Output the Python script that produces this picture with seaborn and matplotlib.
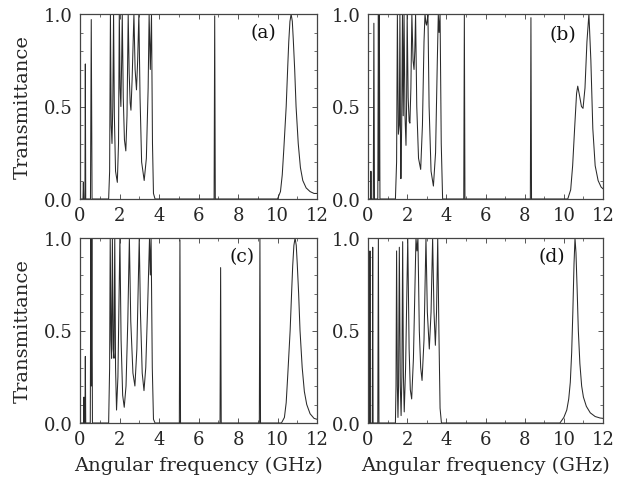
import numpy as np
import pandas as pd
import matplotlib
matplotlib.use("Agg")
import matplotlib.pyplot as plt
from matplotlib.ticker import MultipleLocator
import seaborn as sns

# ── Data (frequency in GHz, transmittance) ─────────────────────────────────
freq_a = [0, 0.15, 0.17, 0.19, 0.25, 0.27, 0.29, 0.53, 0.57, 0.61,
          1.45, 1.5, 1.54, 1.58, 1.62, 1.66, 1.7, 1.74, 1.8, 1.89, 1.95, 1.99,
          2.03, 2.07, 2.11, 2.14, 2.19, 2.25, 2.32, 2.38, 2.44, 2.49, 2.54, 2.58,
          2.64, 2.73, 2.79, 2.86, 2.92, 2.98, 3.04, 3.12, 3.25, 3.36, 3.45, 3.5,
          3.56, 3.62, 3.67, 3.72, 3.8, 6.79, 6.82, 6.85,
          10.0, 10.15, 10.24, 10.32, 10.44, 10.52, 10.57, 10.63, 10.69, 10.75,
          10.8, 10.87, 10.94, 11.05, 11.16, 11.28, 11.45, 11.65, 11.85, 12.0]
trans_a = [0, 0, 0.09, 0, 0, 0.73, 0, 0, 0.97, 0,
           0, 0.15, 1.0, 0.4, 0.3, 0.5, 1.0, 0.45, 0.15, 0.09, 0.3, 1.0,
           0.6, 0.5, 0.75, 1.0, 0.55, 0.32, 0.26, 0.45, 1.0, 0.68, 0.52, 0.48,
           0.65, 1.0, 0.7, 0.59, 0.75, 1.0, 0.55, 0.2, 0.1, 0.22, 0.6, 1.0,
           0.7, 1.0, 0.3, 0.03, 0, 0, 0.99, 0,
           0, 0.04, 0.13, 0.27, 0.5, 0.72, 0.85, 0.96, 1.0, 0.96,
           0.86, 0.7, 0.5, 0.3, 0.17, 0.1, 0.06, 0.04, 0.03, 0.03]

freq_b = [0, 0.13, 0.15, 0.17, 0.27, 0.3, 0.33, 0.5, 0.53, 0.555, 0.58, 0.61,
          1.4, 1.46, 1.5, 1.55, 1.6, 1.63, 1.66, 1.68, 1.72, 1.76, 1.8, 1.84,
          1.89, 1.94, 1.97, 2.0, 2.05, 2.1, 2.14, 2.19, 2.24, 2.3, 2.35, 2.39,
          2.43, 2.49, 2.58, 2.69, 2.78, 2.86, 2.91, 2.96, 2.99, 3.03, 3.06,
          3.12, 3.22, 3.34, 3.45, 3.54, 3.59, 3.63, 3.68, 3.74, 3.81,
          4.89, 4.92, 4.95, 8.29, 8.32, 8.35,
          10.2, 10.35, 10.45, 10.55, 10.65, 10.71, 10.8, 10.9, 10.98, 11.08,
          11.18, 11.28, 11.38, 11.48, 11.6, 11.75, 11.9, 12.0]
trans_b = [0, 0, 0.15, 0, 0, 0.95, 0, 0, 1.0, 0.1, 1.0, 0,
           0, 0.2, 1.0, 0.35, 0.4, 1.0, 0.3, 0.11, 0.4, 1.0, 0.45, 1.0,
           0.45, 0.29, 0.5, 1.0, 0.55, 0.42, 0.41, 0.6, 1.0, 0.75, 0.7, 0.8,
           1.0, 0.5, 0.22, 0.16, 0.4, 0.85, 1.0, 0.95, 0.94, 0.97, 1.0,
           0.5, 0.15, 0.07, 0.25, 0.75, 1.0, 0.9, 1.0, 0.3, 0,
           0, 1.0, 0, 0, 0.98, 0,
           0, 0.05, 0.18, 0.38, 0.57, 0.61, 0.56, 0.5, 0.49, 0.6,
           0.85, 1.0, 0.75, 0.38, 0.18, 0.1, 0.065, 0.055]

freq_c = [0, 0.18, 0.2, 0.22, 0.25, 0.27, 0.29, 0.52, 0.55, 0.575, 0.6, 0.63,
          1.45, 1.5, 1.53, 1.57, 1.6, 1.64, 1.68, 1.72, 1.76, 1.8, 1.85, 1.92,
          2.02, 2.08, 2.16, 2.24, 2.33, 2.42, 2.5, 2.57, 2.68, 2.78, 2.88, 2.95,
          3.0, 3.06, 3.15, 3.24, 3.33, 3.43, 3.52, 3.56, 3.6, 3.66, 3.72, 3.8,
          5.03, 5.06, 5.09, 7.09, 7.12, 7.15, 9.08, 9.11, 9.14,
          10.2, 10.35, 10.44, 10.52, 10.64, 10.72, 10.77, 10.83, 10.89, 10.95,
          11.0, 11.07, 11.14, 11.25, 11.36, 11.48, 11.65, 11.85, 12.0]
trans_c = [0, 0, 0.14, 0, 0, 0.36, 0, 0, 1.0, 0.2, 1.0, 0,
           0, 0.3, 1.0, 0.45, 0.35, 1.0, 0.4, 0.35, 1.0, 0.3, 0.07, 0.25,
           1.0, 0.45, 0.15, 0.085, 0.2, 0.55, 1.0, 0.55, 0.27, 0.2, 0.4, 0.75,
           1.0, 0.6, 0.27, 0.175, 0.3, 0.65, 1.0, 0.8, 1.0, 0.3, 0.02, 0,
           0, 0.99, 0, 0, 0.84, 0, 0, 1.0, 0,
           0, 0.03, 0.11, 0.26, 0.5, 0.72, 0.85, 0.96, 1.0, 0.96,
           0.86, 0.7, 0.5, 0.3, 0.17, 0.1, 0.05, 0.025, 0.02]

freq_d = [0, 0.08, 0.1, 0.12, 0.22, 0.24, 0.26, 0.5, 0.53, 0.56,
          1.4, 1.43, 1.46, 1.5, 1.53, 1.56, 1.6, 1.65, 1.69, 1.73, 1.77, 1.81,
          1.85, 1.92, 2.03, 2.1, 2.16, 2.23, 2.32, 2.45, 2.5, 2.55, 2.62, 2.69,
          2.76, 2.86, 2.96, 3.03, 3.13, 3.22, 3.3, 3.37, 3.44, 3.5, 3.56, 3.62,
          3.68, 3.75,
          9.8, 10.0, 10.15, 10.25, 10.33, 10.4, 10.46, 10.52, 10.57, 10.62,
          10.68, 10.74, 10.82, 10.91, 11.0, 11.15, 11.35, 11.6, 11.85, 12.0]
trans_d = [0, 0, 0.93, 0, 0, 0.95, 0, 0, 1.0, 0,
           0, 0.2, 0.93, 0.2, 0.03, 0.2, 0.95, 0.2, 0.04, 0.25, 0.98, 0.25,
           0.06, 0.3, 1.0, 0.4, 0.18, 0.13, 0.35, 1.0, 0.93, 1.0, 0.5, 0.3,
           0.23, 0.45, 1.0, 0.6, 0.4, 0.6, 1.0, 0.6, 0.42, 0.6, 1.0, 0.5,
           0.08, 0,
           0, 0.03, 0.07, 0.13, 0.22, 0.38, 0.6, 0.86, 1.0, 0.92,
           0.72, 0.5, 0.32, 0.2, 0.14, 0.09, 0.055, 0.035, 0.027, 0.025]

panels = [("(a)", freq_a, trans_a), ("(b)", freq_b, trans_b),
          ("(c)", freq_c, trans_c), ("(d)", freq_d, trans_d)]
label_pos = {"(a)": (9.3, 0.9), "(b)": (9.95, 0.89),
             "(c)": (8.2, 0.9), "(d)": (9.4, 0.9)}

sns.set_theme(style="ticks")
plt.rcParams["font.family"] = ["DejaVu Serif"]
plt.rcParams["mathtext.fontset"] = "dejavuserif"

W, H = 618, 485
fig = plt.figure(figsize=(W / 100, H / 100), dpi=100)

# axes boxes in pixels: (left, top, right, bottom)
boxes = [(80, 15, 317, 200), (368, 15, 603, 200),
         (80, 239, 317, 424), (368, 239, 603, 424)]

line_color = "#2a2a2a"
tick_fs = 13
label_fs = 14

for i, ((tag, fx, ty), (l, t, r, b)) in enumerate(zip(panels, boxes)):
    ax = fig.add_axes([l / W, 1 - b / H, (r - l) / W, (b - t) / H])
    df = pd.DataFrame({"freq": fx, "trans": ty})
    sns.lineplot(data=df, x="freq", y="trans", ax=ax, estimator=None,
                 sort=False, color=line_color, linewidth=0.75)
    ax.set_xlim(0, 12)
    ax.set_ylim(0, 1)
    ax.xaxis.set_major_locator(MultipleLocator(2))
    ax.xaxis.set_minor_locator(MultipleLocator(1))
    ax.yaxis.set_major_locator(MultipleLocator(0.5))
    ax.yaxis.set_minor_locator(MultipleLocator(0.1))
    ax.yaxis.set_major_formatter(plt.FuncFormatter(lambda v, p: f"{v:.1f}"))
    ax.tick_params(which="both", direction="in", top=True, right=True,
                   labelsize=tick_fs, color="#555555", pad=5)
    ax.tick_params(which="major", length=3.5, width=0.7)
    ax.tick_params(which="minor", length=2.5, width=0.6)
    for sp in ax.spines.values():
        sp.set_color("#444444")
        sp.set_linewidth(0.9)
    if i % 2 == 0:
        ax.set_ylabel("Transmittance", fontsize=label_fs)
        ax.yaxis.set_label_coords((32 - l) / (r - l), 0.5)
    else:
        ax.set_ylabel("")
    if i >= 2:
        ax.set_xlabel("Angular frequency (GHz)", fontsize=label_fs)
        ax.xaxis.set_label_coords(0.5, (b - 457) / (b - t))
    else:
        ax.set_xlabel("")
    x0, y0 = label_pos[tag]
    ax.text(x0, y0, tag, ha="center", va="center", fontsize=13.5,
            color="#111111")

fig.savefig("out.png", dpi=100)
